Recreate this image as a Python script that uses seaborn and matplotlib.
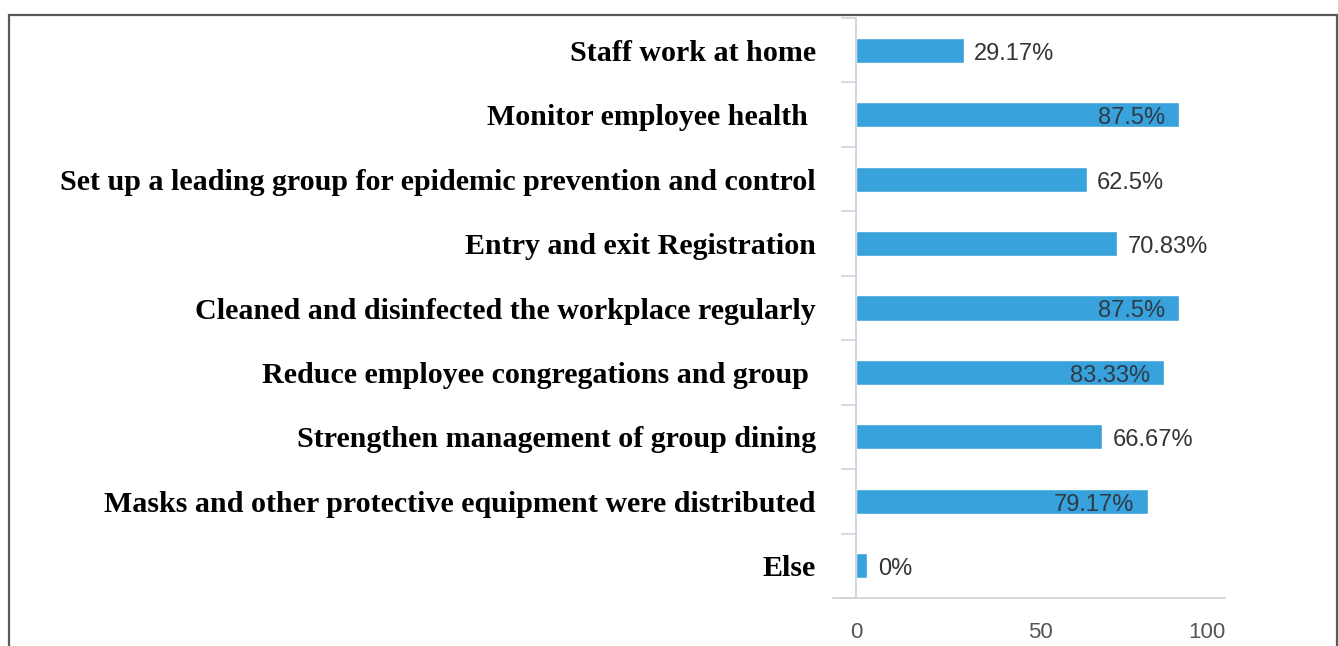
import matplotlib
matplotlib.use("Agg")
import matplotlib.pyplot as plt
from matplotlib.patches import Rectangle
from matplotlib.ticker import FixedLocator
import numpy as np
import pandas as pd
import seaborn as sns

# Workplace epidemic-prevention measures and share of respondents (%)
measures = [
    "Staff work at home",
    "Monitor employee health ",
    "Set up a leading group for epidemic prevention and control",
    "Entry and exit Registration",
    "Cleaned and disinfected the workplace regularly",
    "Reduce employee congregations and group ",
    "Strengthen management of group dining",
    "Masks and other protective equipment were distributed",
    "Else",
]
shares = [29.17, 87.5, 62.5, 70.83, 87.5, 83.33, 66.67, 79.17, 0]
share_labels = ["29.17%", "87.5%", "62.5%", "70.83%", "87.5%", "83.33%", "66.67%", "79.17%", "0%"]
x_ticks = [0, 50, 100]

sns.set_theme(style="white")

W, H = 1338, 646
fig = plt.figure(figsize=(W / 100, H / 100), dpi=100)
ax = fig.add_axes([833 / W, 48 / H, (1225 - 833) / W, (598 - 18) / H])

# zero-valued rows still get a small visible stub, as in the source chart
bar_min_len = 3.0
df = pd.DataFrame({"measure": measures, "share": shares})
df["bar_len"] = np.maximum(df["share"], bar_min_len)

bar_color = "#38a2dd"
sns.barplot(data=df, y="measure", x="bar_len", orient="h", color=bar_color,
            saturation=1, width=0.39, ax=ax)

ax.set_xlim(-6.3, 100)
ax.set_ylim(len(measures) - 0.5, -0.5)
ax.set_xlabel("")
ax.set_ylabel("")

# spines: category axis sits on x = 0, value axis line along the bottom
for s in ("top", "right"):
    ax.spines[s].set_visible(False)
ax.spines["left"].set_position(("data", 0))
ax.spines["left"].set_color("#c9d1da")
ax.spines["left"].set_linewidth(1.2)
ax.spines["bottom"].set_color("#cfd3d6")
ax.spines["bottom"].set_linewidth(1.2)

# category labels
ax.set_yticks(range(len(measures)))
ax.set_yticklabels(measures, fontfamily="Liberation Serif", fontweight="bold",
                   fontsize=21.6, color="black")
ax.tick_params(axis="y", which="major", length=0, pad=29)
ax.yaxis.set_minor_locator(FixedLocator(np.arange(-0.5, len(measures), 1.0)))
ax.tick_params(axis="y", which="minor", length=11, width=1.1, color="#c9d1da",
               direction="out", left=True)

# value axis labels
ax.set_xticks(x_ticks)
ax.set_xticklabels([str(t) for t in x_ticks], fontfamily="Liberation Sans",
                   fontsize=16, color="#555555")
ax.tick_params(axis="x", length=0, pad=17)
ax.get_xticklabels()[-1].set_horizontalalignment("right")

# value labels: inside the bar for long bars, outside otherwise
for i, (v, lab) in enumerate(zip(df["bar_len"], share_labels)):
    if v > 75:
        ax.annotate(lab, (v, i), xytext=(-10, -2.5), textcoords="offset points",
                    ha="right", va="center", fontsize=17,
                    fontfamily="Liberation Sans", color="#2e3a46")
    else:
        ax.annotate(lab, (v, i), xytext=(7.5, -2.5), textcoords="offset points",
                    ha="left", va="center", fontsize=17,
                    fontfamily="Liberation Sans", color="#333333")

# outer frame around the figure
fig.add_artist(Rectangle((8.5 / W, -0.05), (1336.5 - 8.5) / W, (H - 14.5) / H + 0.05,
                         transform=fig.transFigure, fill=False,
                         edgecolor="#5a5a5a", linewidth=1.6))

fig.savefig("out.png", dpi=100)
